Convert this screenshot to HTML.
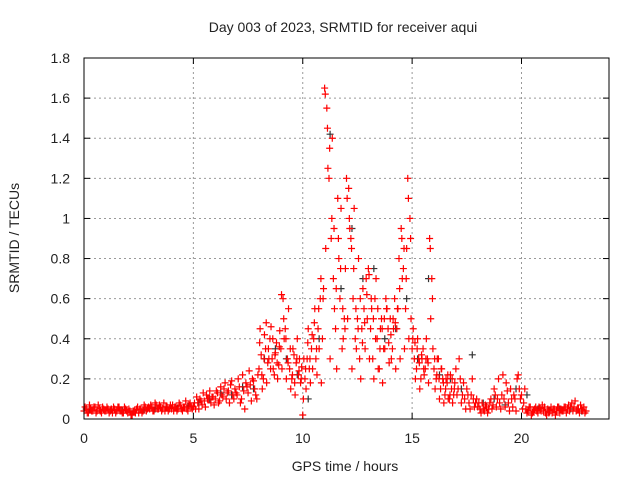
<!DOCTYPE html>
<html><head><meta charset="utf-8"><style>
body{margin:0;background:#fff;font-family:"Liberation Sans",sans-serif}
svg text{font-family:"Liberation Sans",sans-serif;font-size:14px;fill:#222}
</style></head><body>
<svg id="c" width="640" height="480">
<text x="343" y="32" text-anchor="middle">Day 003 of 2023, SRMTID for receiver aqui</text>
<text x="345" y="471" text-anchor="middle">GPS time / hours</text>
<text transform="translate(19,238) rotate(-90)" text-anchor="middle">SRMTID / TECUs</text>
<g id="grid"></g><g id="ticks"></g><g id="pts"></g>
<rect x="84" y="58" width="525" height="361" fill="none" stroke="#000" stroke-width="1"/>
</svg>
<script>
const xTicks=[0,5,10,15,20];
const yTicks=[0,0.2,0.4,0.6,0.8,1,1.2,1.4,1.6,1.8];
const yTickLabels=["0","0.2","0.4","0.6","0.8","1","1.2","1.4","1.6","1.8"];
const tStart=0, tStep=0.1, bStart=0.05, cStart=8.03;
const redA=[.04,.05,.03,.05,.04,.06,.04,.05,.03,.05,.04,.05,.04,.03,.05,.04,.06,.04,.03,.05,.03,.04,.02,.04,.05,.03,.05,.04,.06,.05,.05,.06,.04,.07,.05,.06,.05,.04,.06,.05,.05,.04,.06,.05,.07,.04,.06,.05,.07,.06,.06,.05,.08,.10,.07,.09,.12,.10,.08,.11,.10,.13,.09,.12,.15,.10,.14,.17,.12,.15,.12,.16,.10,.14,.18,.13,.17,.20,.15,.10,.25,.32,.20,.35,.28,.40,.30,.22,.38,.27,.35,.60,.45,.30,.25,.20,.32,.28,.22,.18,.02,.20,.30,.25,.35,.40,.30,.45,.60,.40,1.65,1.55,1.2,.9,.7,.45,1.1,.6,.35,.5,1.2,1.15,.9,.6,.4,.5,.3,.45,.55,.7,.75,.45,.3,.6,.4,.25,.5,.35,.6,.45,.5,.35,.6,.45,.8,.95,.75,.55,1.2,1.0,.35,.3,.25,.3,.2,.35,.25,.3,.9,.7,.25,.2,.3,.15,.2,.12,.18,.1,.15,.12,.25,.15,.2,.12,.1,.15,.08,.12,.1,.08,.06,.05,.08,.04,.06,.05,.1,.07,.12,.1,.08,.12,.1,.18,.08,.15,.06,.1,.2,.15,.12,.08,.05,.04,.06,.03,.05,.04,.06,.04,.04,.03,.05,.04,.03,.05,.04,.06,.05,.04,.06,.05,.04,.08,.06,.04,.05,.07,.04,.03];
const redB=[.06,.03,.07,.04,.06,.03,.07,.04,.06,.04,.06,.03,.05,.06,.03,.06,.04,.03,.06,.04,.05,.02,.04,.03,.06,.05,.03,.07,.04,.06,.07,.04,.08,.05,.07,.04,.08,.06,.04,.07,.07,.06,.04,.08,.05,.06,.09,.04,.08,.05,.08,.11,.05,.09,.13,.06,.10,.14,.11,.07,.14,.08,.16,.11,.18,.13,.08,.19,.10,.13,.20,.08,.22,.05,.16,.24,.09,.19,.12,.22,.45,.15,.42,.18,.30,.46,.25,.33,.20,.44,.25,.40,.20,.55,.15,.35,.12,.40,.30,.26,.30,.15,.45,.18,.25,.55,.22,.35,.18,.65,.85,1.25,.30,1.4,.55,.25,.8,1.05,.4,.75,.5,.95,.25,1.05,.35,.8,.2,.65,.35,.5,.3,.55,.2,.7,.25,.45,.18,.35,.55,.28,.3,.45,.25,.55,.3,.7,.35,.85,.4,.5,.45,.2,.4,.15,.3,.22,.4,.18,.5,.35,.15,.3,.1,.25,.08,.2,.1,.22,.08,.18,.12,.3,.08,.18,.05,.12,.05,.2,.06,.1,.08,.03,.05,.07,.03,.08,.05,.15,.06,.2,.05,.22,.06,.14,.04,.1,.12,.04,.22,.1,.05,.15,.03,.06,.02,.04,.06,.03,.05,.07,.06,.02,.03,.06,.05,.02,.06,.03,.04,.06,.03,.07,.06,.04,.09,.05,.03,.05,.06,.04];
const redC=[.38,.22,.30,.48,.35,.25,.40,.32,.28,.36,.62,.50,.40,.28,.35,.22,.18,.30,.24,.20,.10,.25,.38,.30,.42,.48,.35,.55,.70,.60,1.62,1.45,1.35,1.0,.95,.65,.9,.75,.55,.45,1.1,1.0,.85,.75,.55,.45,.6,.38,.48,.62,.72,.6,.5,.4,.55,.35,.45,.5,.55,.38,.42,.5,.48,.55,.65,.9,.85,.7,1.1,.9,.4,.38,.35,.28,.32,.25,.3,.28,.85,.6,.3,.22,.2,.25,.18,.15,.22,.12,.2,.15];
const blackStep=0.5, blackStart=0.25;
const blackVals=[.05,.04,.05,.04,.04,.05,.05,.06,.05,.06,.08,.10,.13,.12,.16,.15,.30,.35,.30,.22,.10,.40,1.42,.65,.95,.70,.75,.40,.45,.60,.30,.70,.22,.20,.15,.32,.08,.10,.07,.15,.12,.05,.04,.05,.05,.04];
const X0=84,X1=609,Y0=419,Y1=58,XMAX=24,YMAX=1.8;
const sx=v=>X0+(X1-X0)*v/XMAX, sy=v=>Y0-(Y0-Y1)*v/YMAX;
const NS="http://www.w3.org/2000/svg";
function mk(t,a,p){const e=document.createElementNS(NS,t);for(const k in a)e.setAttribute(k,a[k]);p.appendChild(e);return e;}
const grid=document.getElementById('grid'),ticks=document.getElementById('ticks'),pts=document.getElementById('pts');
xTicks.forEach(v=>{const x=sx(v);
 if(v>0){const g=mk('line',{x1:x,x2:x,y1:Y0,y2:Y1,stroke:'#999','stroke-dasharray':'2,3'},grid);
 
 }
 mk('line',{x1:x,x2:x,y1:Y0,y2:Y0-6,stroke:'#000'},ticks);mk('line',{x1:x,x2:x,y1:Y1,y2:Y1+6,stroke:'#000'},ticks);
 const t=mk('text',{x:x,y:443,'text-anchor':'middle'},ticks);t.textContent=v;
 
 });
yTicks.forEach((v,i)=>{const y=sy(v);
 if(v>0&&v<YMAX){const g=mk('line',{x1:X0,x2:X1,y1:y,y2:y,stroke:'#999','stroke-dasharray':'2,3'},grid);
 
 }
 mk('line',{x1:X0,x2:X0+6,y1:y,y2:y,stroke:'#000'},ticks);mk('line',{x1:X1,x2:X1-6,y1:y,y2:y,stroke:'#000'},ticks);
 const t=mk('text',{x:70,y:y+5,'text-anchor':'end'},ticks);t.textContent=yTickLabels[i];
 
 });
function plus(t,v,col,name){const x=sx(t),y=sy(v);
 const p=mk('path',{d:`M${x-3.5} ${y}h7M${x} ${y-3.5}v7`,stroke:col,'stroke-width':1.2,fill:'none'},pts);
 
 }
blackVals.forEach((v,i)=>plus(blackStart+i*blackStep,v,'#333','black-point'));
redA.forEach((v,i)=>plus(tStart+i*tStep,v,'#ff0000','red-point'));
redB.forEach((v,i)=>plus(bStart+i*tStep,v,'#ff0000','red-point'));
redC.forEach((v,i)=>plus(cStart+i*tStep,v,'#ff0000','red-point'));
</script>
</body></html>
